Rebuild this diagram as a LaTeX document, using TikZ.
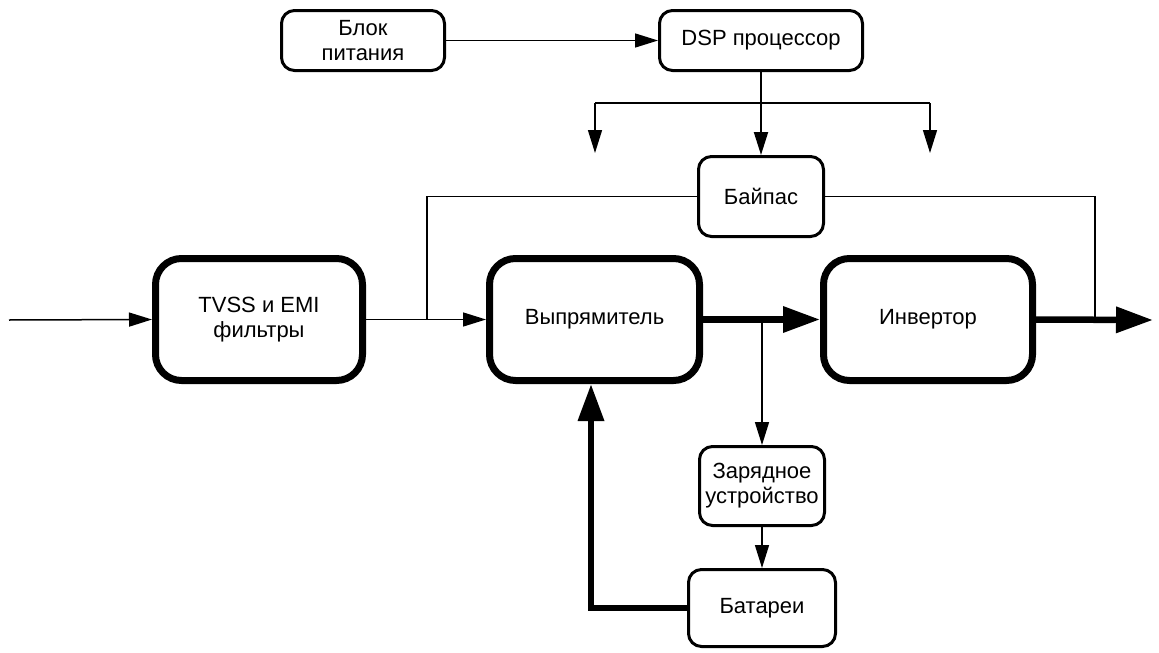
\documentclass[tikz,border=0pt]{standalone}
\usepackage{fontspec}
\setmainfont{Liberation Sans}
\usetikzlibrary{arrows.meta}
\begin{document}
\begin{tikzpicture}[x=1pt,y=-1pt,
  every node/.style={font=\fontsize{22}{25}\selectfont, align=center, inner sep=0pt},
  thinbox/.style={draw, line width=3pt, rounded corners=13pt},
  thickbox/.style={draw, line width=7pt, rounded corners=26pt},
  thinline/.style={line width=1.5pt},
  thinarrow/.style={line width=1.5pt, -{Triangle[length=23pt,width=14pt]}},
  thickline/.style={line width=6.5pt},
  thickarrow/.style={line width=6.5pt, -{Triangle[length=37pt,width=25pt]}}]
\useasboundingbox (0,0) rectangle (1159,653);
\fill[white] (0,0) rectangle (1159,653);

\node[thinbox, minimum width=163pt, minimum height=60pt] (blok) at (363,40.5) {Блок\\питания};
\node[thinbox, minimum width=203pt, minimum height=60pt] (dsp) at (761,40.5) {DSP процессор};
\node[thinbox, minimum width=125pt, minimum height=80pt] (byp) at (761,196.5) {Байпас};
\node[thickbox, minimum width=207pt, minimum height=122pt] (tvss) at (259,319.5) {TVSS и EMI\\фильтры};
\node[thickbox, minimum width=210pt, minimum height=122pt] (rect) at (594.5,319.5) {Выпрямитель};
\node[thickbox, minimum width=209pt, minimum height=122pt] (inv) at (928,319.5) {Инвертор};
\node[thinbox, minimum width=125pt, minimum height=79pt] (chg) at (762,486) {Зарядное\\устройство};
\node[thinbox, minimum width=147pt, minimum height=77pt] (bat) at (762,608) {Батареи};

\coordinate (in) at (9,320);
\coordinate (j1) at (427,320);
\coordinate (j2) at (1095,320);
\coordinate (j3) at (762,320);
\coordinate (out) at (1153,320);
\coordinate (b1) at (595,103);
\coordinate (b1e) at (595,153);
\coordinate (b2) at (930,103);
\coordinate (b2e) at (930,153);
\coordinate (rb) at (591,384);

% top
\draw[thinarrow] (blok.east) -- (dsp.west);
\draw[thinarrow, line width=2pt] (dsp.south) -- (byp.north);
\draw[thinline] (b1) -- (b2);
\draw[thinarrow] (b1) -- (b1e);
\draw[thinarrow] (b2) -- (b2e);

% main chain
\draw[thinarrow] (in) -- (tvss.west);
\draw[thinarrow] (tvss.east) -- (rect.west);
\draw[thinline] (byp.west) -| (j1);
\draw[thinline] (byp.east) -| (j2);
\draw[thickarrow] (rect.east) -- (inv.west);
\draw[thickarrow] (inv.east) -- (out);

% charger and battery
\draw[thinarrow] (j3) -- (chg.north);
\draw[thinarrow] (chg.south) -- (bat.north);
\draw[thickarrow] (bat.west) -| (rb);
\end{tikzpicture}
\end{document}
